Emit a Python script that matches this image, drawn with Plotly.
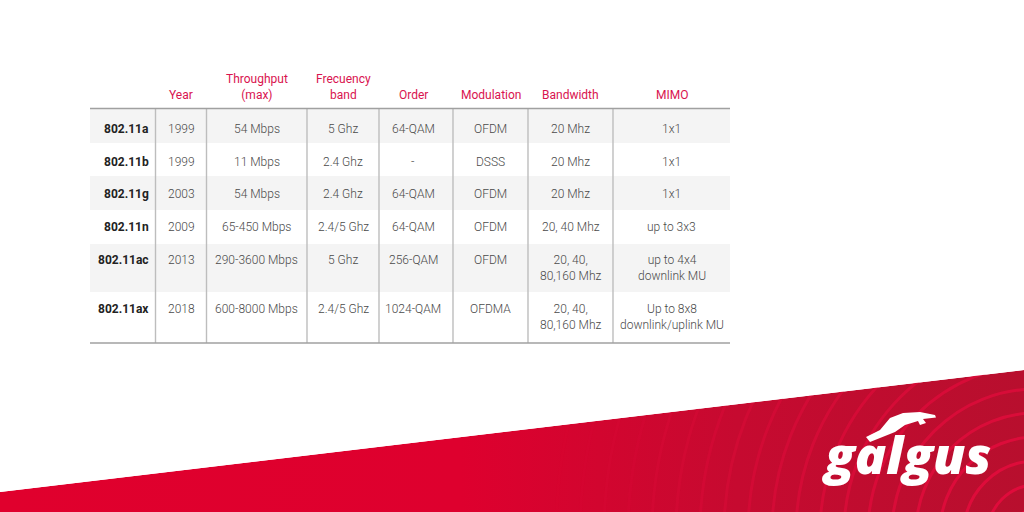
import plotly.graph_objects as go

headers = ["", "Year", "Throughput<br>(max)", "Frecuency<br>band", "Order", "Modulation", "Bandwidth", "MIMO"]
standards = ["802.11a", "802.11b", "802.11g", "802.11n", "802.11ac", "802.11ax"]
years = ["1999", "1999", "2003", "2009", "2013", "2018"]
throughput = ["54 Mbps", "11 Mbps", "54 Mbps", "65-450 Mbps", "290-3600 Mbps", "600-8000 Mbps"]
frequency = ["5 Ghz", "2.4 Ghz", "2.4 Ghz", "2.4/5 Ghz", "5 Ghz", "2.4/5 Ghz"]
order = ["64-QAM", "-", "64-QAM", "64-QAM", "256-QAM", "1024-QAM"]
modulation = ["OFDM", "DSSS", "OFDM", "OFDM", "OFDM", "OFDMA"]
bandwidth = ["20 Mhz", "20 Mhz", "20 Mhz", "20, 40 Mhz", "20, 40,<br>80,160 Mhz", "20, 40,<br>80,160 Mhz"]
mimo = ["1x1", "1x1", "1x1", "up to 3x3", "up to 4x4<br>downlink MU", "Up to 8x8<br>downlink/uplink MU"]
columns = [years, throughput, frequency, order, modulation, bandwidth, mimo]

col_edges = [90, 155.5, 206.5, 307, 379, 453, 528, 613, 730]
col_centers = [181, 256.5, 343, 413, 490.5, 570.5, 671.5]
row_edges = [109, 143, 176, 210, 244, 292, 343]
row_text_y = [128.5, 161.5, 194, 227, 259.5, 308.5]
banner_edge = [(0, 492), (1024, 370)]
ring_center = (1036, 533)
ring_radii = [24, 48, 72, 96, 120, 144, 168, 192, 216, 240, 264, 288, 312, 336, 360, 384, 408, 432, 456, 480, 504]
hound = [(866, 437), (880, 430), (890, 418), (903, 413), (920, 412), (935, 415), (936, 417.5),
         (923, 419), (926, 423), (920, 425), (918, 421), (905, 425), (895, 432), (880, 438), (870, 442)]

HEAD = "#d9134f"
TEXT = "#4a4a4a"
FONT = "Roboto"

fig = go.Figure()
fig.add_trace(go.Scatter(
    x=[banner_edge[0][0], banner_edge[1][0], 1024, 0, banner_edge[0][0]],
    y=[banner_edge[0][1], banner_edge[1][1], 512, 512, banner_edge[0][1]],
    mode="lines", line=dict(width=0), fill="toself", hoverinfo="skip", showlegend=False,
    fillgradient=dict(type="horizontal",
                      colorscale=[[0, "#e0002d"], [0.45, "#de002e"], [0.72, "#c60a30"], [1, "#b80f2e"]]),
))

shapes = []
for i, r in enumerate(ring_radii):
    a = max(0.0, 1.0 - i * 0.05)
    shapes.append(dict(type="circle", xref="x", yref="y",
                       x0=ring_center[0] - r, x1=ring_center[0] + r,
                       y0=ring_center[1] - r, y1=ring_center[1] + r,
                       line=dict(color=f"rgba(226,12,60,{a:.2f})", width=3), layer="above"))
shapes.append(dict(type="path", xref="x", yref="y", layer="above", line=dict(width=0), fillcolor="white",
                   path=f"M 0 {banner_edge[0][1]} L {banner_edge[1][0]} {banner_edge[1][1]} L 1024 0 L 0 0 Z"))
for i in (0, 2, 4):
    shapes.append(dict(type="rect", xref="x", yref="y", layer="above", line=dict(width=0),
                       fillcolor="#f4f4f4", x0=col_edges[0], x1=col_edges[-1],
                       y0=row_edges[i], y1=row_edges[i + 1]))
for x in col_edges[1:-1]:
    shapes.append(dict(type="line", xref="x", yref="y", layer="above", x0=x, x1=x,
                       y0=row_edges[0], y1=row_edges[-1], line=dict(color="#bdbdbd", width=1.4)))
for y in (row_edges[0] - 0.5, row_edges[-1]):
    shapes.append(dict(type="line", xref="x", yref="y", layer="above", x0=col_edges[0], x1=col_edges[-1],
                       y0=y, y1=y, line=dict(color="#a0a0a0", width=1.4)))
shapes.append(dict(type="path", xref="x", yref="y", layer="above", line=dict(width=0), fillcolor="white",
                   path="M " + " L ".join(f"{x} {y}" for x, y in hound) + " Z"))

ann = []
def label(x, y, text, color=TEXT, size=12, anchor="center", weight=300):
    ann.append(dict(x=x, y=y, xref="x", yref="y", text=text, showarrow=False, xanchor=anchor, yanchor="middle",
                    align=anchor, font=dict(family=FONT, size=size, color=color, weight=weight)))

for j, h in enumerate(headers):
    if h:
        label(col_centers[j - 1], 87 if "<br>" in h else 94.5, h, color=HEAD, weight=400)
for i, s in enumerate(standards):
    label(col_edges[1] - 5, row_text_y[i], s, color="#222222", anchor="right", weight=700)
    for j, col in enumerate(columns):
        v = col[i]
        label(col_centers[j], row_text_y[i] + (8 if "<br>" in v else 0), v)

ann.append(dict(x=906, y=453, xref="x", yref="y", text="<i>galgus</i>", showarrow=False, xanchor="center",
                yanchor="middle", font=dict(family="Open Sans", size=52, color="white", weight=800)))

fig.update_layout(
    width=1024, height=512, margin=dict(l=0, r=0, t=0, b=0),
    paper_bgcolor="white", plot_bgcolor="white", showlegend=False,
    xaxis=dict(range=[0, 1024], visible=False, fixedrange=True),
    yaxis=dict(range=[512, 0], visible=False, fixedrange=True),
    shapes=shapes, annotations=ann,
)
fig.write_html("out.html", config=dict(displayModeBar=False),
               post_script="document.body.style.margin='0';document.body.style.overflow='hidden';")
